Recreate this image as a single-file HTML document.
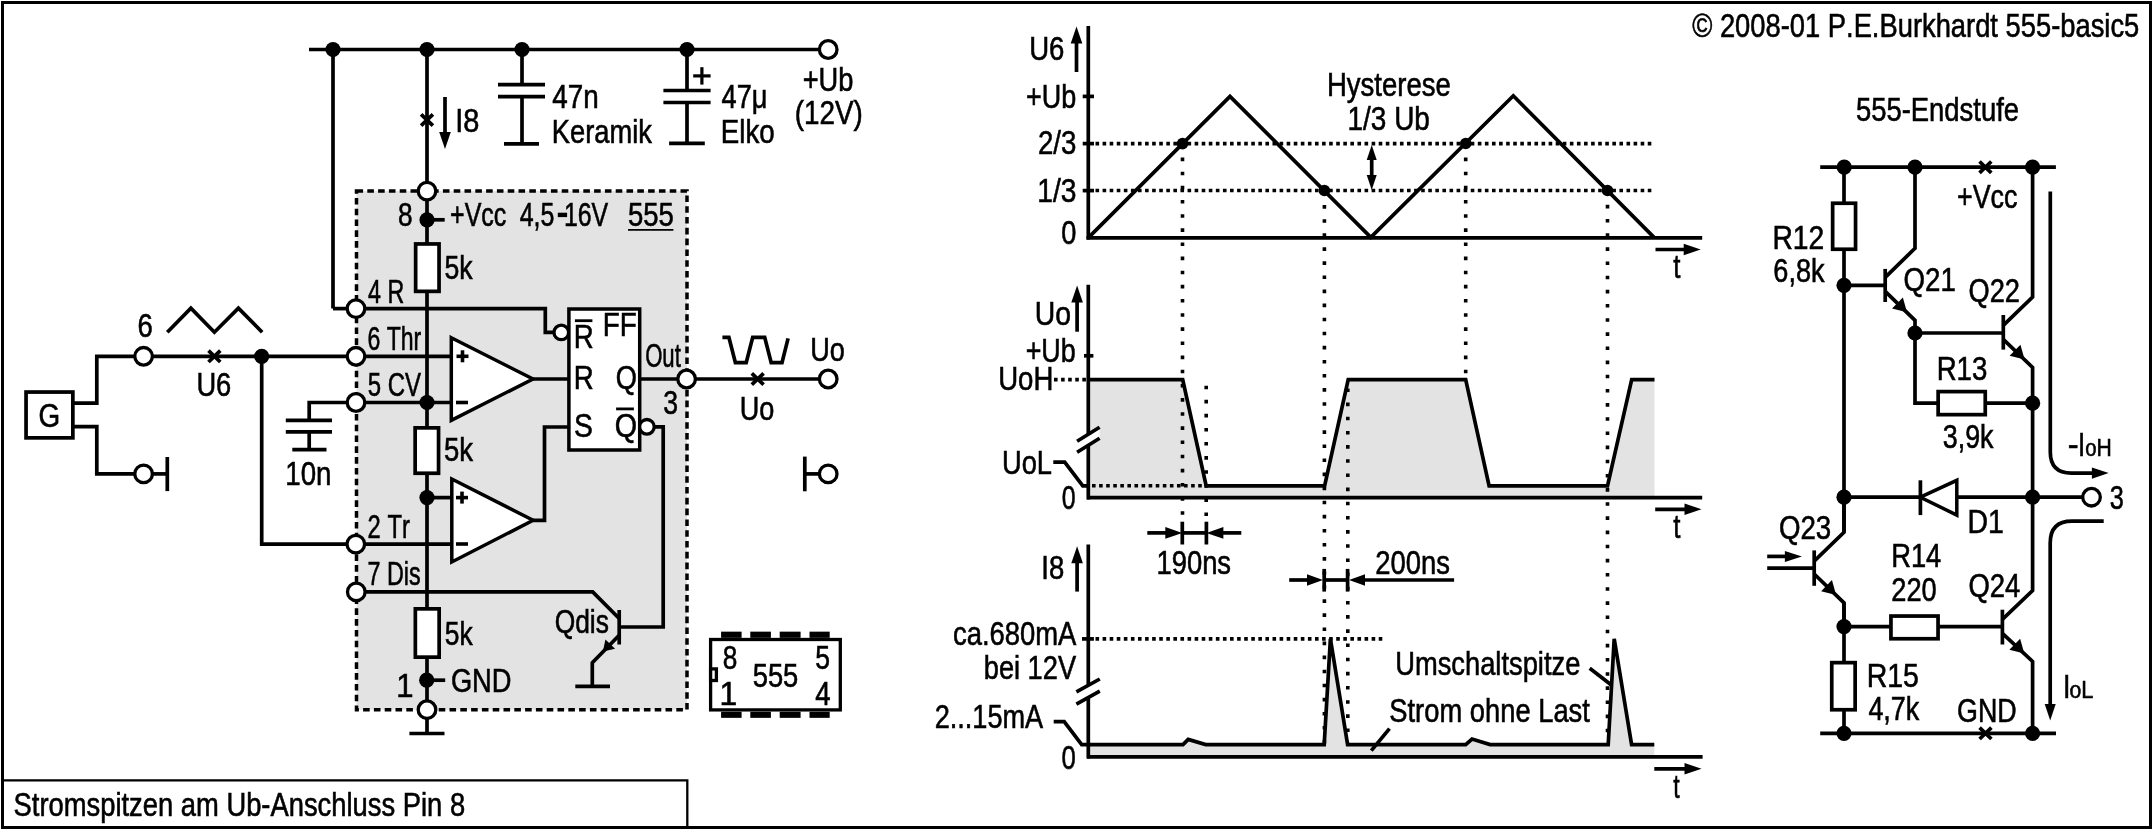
<!DOCTYPE html>
<html><head><meta charset="utf-8"><style>
html,body{margin:0;padding:0;background:#fff;width:2153px;height:830px;overflow:hidden}
svg{display:block;will-change:transform}
text{font-family:"Liberation Sans",sans-serif;font-kerning:none;fill:#000;stroke:#000;stroke-width:0.6px}
</style></head><body>
<svg width="2153" height="830" viewBox="0 0 2153 830" stroke="#000" fill="none">
<rect x="2.5" y="2.5" width="2148" height="825" fill="none" stroke-width="3"/>
<polyline points="2.5,780.3 687.3,780.3 687.3,827.5" stroke-width="2.3" stroke-linejoin="miter" stroke-linecap="butt" fill="none"/>
<text transform="translate(13.56,816) scale(0.8346,1)" font-size="32.8" >Stromspitzen am Ub-Anschluss Pin 8</text>
<text transform="translate(1692.19,36.9) scale(0.8334,1)" font-size="32.8" >© 2008-01 P.E.Burkhardt 555-basic5</text>
<rect x="356.5" y="191.1" width="330.5" height="518.6" fill="#e3e3e3" stroke-width="3.5" stroke-dasharray="6.6 4.2"/>
<line x1="309" y1="49.5" x2="820" y2="49.5" stroke-width="3.7" stroke-linecap="butt"/>
<line x1="333" y1="49.5" x2="333" y2="308.6" stroke-width="3.7" stroke-linecap="butt"/>
<line x1="333" y1="308.6" x2="356" y2="308.6" stroke-width="3.7" stroke-linecap="butt"/>
<line x1="427" y1="49.5" x2="427" y2="733.5" stroke-width="3.7" stroke-linecap="butt"/>
<circle cx="333" cy="49.5" r="7.6" fill="#000" stroke="none"/>
<circle cx="427" cy="49.5" r="7.6" fill="#000" stroke="none"/>
<circle cx="522" cy="49.5" r="7.6" fill="#000" stroke="none"/>
<circle cx="687" cy="49.5" r="7.6" fill="#000" stroke="none"/>
<circle cx="828.2" cy="49.5" r="8.8" fill="#fff" stroke-width="3.3"/>
<path d="M421.1,114.3L432.9,125.7M421.1,125.7L432.9,114.3" stroke-width="3.7"/>
<line x1="445" y1="97" x2="445.0" y2="138.8" stroke-width="3.7" stroke-linecap="butt"/>
<polygon points="445,149 439.2,132.0 450.8,132.0" fill="#000" stroke="none"/>
<text transform="translate(455.13,131.6) scale(0.8820,1)" font-size="32.8" >I8</text>
<line x1="522" y1="49.5" x2="522" y2="84.6" stroke-width="3.7" stroke-linecap="butt"/>
<line x1="498" y1="84.6" x2="545" y2="84.6" stroke-width="3.7" stroke-linecap="butt"/>
<line x1="498" y1="96.6" x2="545" y2="96.6" stroke-width="3.7" stroke-linecap="butt"/>
<line x1="522" y1="96.6" x2="522" y2="143.9" stroke-width="3.7" stroke-linecap="butt"/>
<line x1="504" y1="143.9" x2="539" y2="143.9" stroke-width="3.7" stroke-linecap="butt"/>
<text transform="translate(552.36,107.7) scale(0.8487,1)" font-size="32.8" >47n</text>
<text transform="translate(551.76,142.9) scale(0.8330,1)" font-size="32.8" >Keramik</text>
<line x1="687" y1="49.5" x2="687" y2="90.5" stroke-width="3.7" stroke-linecap="butt"/>
<line x1="663.4" y1="90.5" x2="710.6" y2="90.5" stroke-width="3.7" stroke-linecap="butt"/>
<line x1="663.4" y1="102.5" x2="710.6" y2="102.5" stroke-width="3.7" stroke-linecap="butt"/>
<line x1="687" y1="102.5" x2="687" y2="143.4" stroke-width="3.7" stroke-linecap="butt"/>
<line x1="669.1" y1="143.4" x2="704.8" y2="143.4" stroke-width="3.7" stroke-linecap="butt"/>
<line x1="693.2" y1="75.9" x2="710.6" y2="75.9" stroke-width="3.2" stroke-linecap="butt"/>
<line x1="701.9" y1="67.2" x2="701.9" y2="84.6" stroke-width="3.2" stroke-linecap="butt"/>
<text transform="translate(721.58,107.7) scale(0.8291,1)" font-size="32.8" >47μ</text>
<text transform="translate(720.83,142.9) scale(0.8454,1)" font-size="32.8" >Elko</text>
<text transform="translate(802.67,91.4) scale(0.8313,1)" font-size="32.8" >+Ub</text>
<text transform="translate(794.67,123.6) scale(0.8485,1)" font-size="32.8" >(12V)</text>
<circle cx="427" cy="191.1" r="8.8" fill="#fff" stroke-width="3.3"/>
<circle cx="427" cy="219.8" r="7.6" fill="#000" stroke="none"/>
<line x1="427" y1="219.8" x2="444.7" y2="219.8" stroke-width="3.7" stroke-linecap="butt"/>
<text transform="translate(398.06,225.9) scale(0.7992,1)" font-size="32.8" >8</text>
<text transform="translate(450.08,225.6) scale(0.7623,1)" font-size="32.8" >+Vcc</text>
<text transform="translate(519.73,225.8) scale(0.7615,1)" font-size="32.8" >4,5</text>
<rect x="557.8" y="212.7" width="9.3" height="4.4" fill="#000" stroke="none"/>
<text transform="translate(563.90,225.8) scale(0.7592,1)" font-size="32.8" >16V</text>
<text transform="translate(627.90,225.6) scale(0.8398,1)" font-size="32.8" >555</text>
<line x1="628" y1="229.85" x2="673.4" y2="229.85" stroke-width="1.9" stroke-linecap="butt"/>
<rect x="415.65000000000003" y="243.95" width="23.399999999999967" height="47.39999999999999" fill="#fff" stroke-width="3.7"/>
<text transform="translate(444.43,278.6) scale(0.8119,1)" font-size="32.8" >5k</text>
<circle cx="356" cy="308.6" r="8.8" fill="#fff" stroke-width="3.3"/>
<polyline points="364,308.6 545.3,308.6 545.3,332.4 554,332.4" stroke-width="3.7" stroke-linejoin="miter" stroke-linecap="butt" fill="none"/>
<circle cx="561.3" cy="332.4" r="7.3" fill="#fff" stroke-width="3.3"/>
<text transform="translate(368.07,302.5) scale(0.7074,1)" font-size="32.8" >4 R</text>
<rect x="568.9" y="309" width="70.8" height="141" fill="#fff" stroke-width="3.5"/>
<text transform="translate(573.73,347.6) scale(0.8421,1)" font-size="32.8" >R</text>
<line x1="574.9" y1="320.7" x2="592.4" y2="320.7" stroke-width="2.8" stroke-linecap="butt"/>
<text transform="translate(602.72,336.4) scale(0.8484,1)" font-size="32.8" >FF</text>
<text transform="translate(573.73,389.4) scale(0.8421,1)" font-size="32.8" >R</text>
<text transform="translate(615.71,389.4) scale(0.8307,1)" font-size="32.8" >Q</text>
<text transform="translate(574.11,436.7) scale(0.8632,1)" font-size="32.8" >S</text>
<text transform="translate(614.64,436.7) scale(0.8754,1)" font-size="32.8" >Q</text>
<line x1="616.1" y1="408.9" x2="633.9" y2="408.9" stroke-width="2.8" stroke-linecap="butt"/>
<text transform="translate(645.15,366.9) scale(0.6755,1)" font-size="32.8" >Out</text>
<text transform="translate(663.29,413.7) scale(0.8102,1)" font-size="32.8" >3</text>
<rect x="26.05" y="392.05" width="46.8" height="45.8" fill="#fff" stroke-width="3.7"/>
<text transform="translate(38.50,426.6) scale(0.8500,1)" font-size="32.8" >G</text>
<polyline points="73.7,403.1 96.8,403.1 96.8,356.3 135,356.3" stroke-width="3.7" stroke-linejoin="miter" stroke-linecap="butt" fill="none"/>
<circle cx="143.6" cy="356.3" r="8.8" fill="#fff" stroke-width="3.3"/>
<line x1="152" y1="356.3" x2="451.3" y2="356.3" stroke-width="3.7" stroke-linecap="butt"/>
<polyline points="73.7,426.6 96.8,426.6 96.8,473.9 135,473.9" stroke-width="3.7" stroke-linejoin="miter" stroke-linecap="butt" fill="none"/>
<circle cx="143.6" cy="473.9" r="8.8" fill="#fff" stroke-width="3.3"/>
<line x1="152" y1="473.9" x2="167.3" y2="473.9" stroke-width="3.7" stroke-linecap="butt"/>
<line x1="167.3" y1="457" x2="167.3" y2="491.1" stroke-width="3.7" stroke-linecap="butt"/>
<text transform="translate(137.60,337.3) scale(0.8391,1)" font-size="32.8" >6</text>
<polyline points="167.3,332.2 190.9,308.2 214.4,332.2 238.4,308.2 262.2,332.2" stroke-width="3.7" stroke-linejoin="miter" stroke-linecap="butt" fill="none"/>
<path d="M208.5,350.6L220.3,362.0M208.5,362.0L220.3,350.6" stroke-width="3.7"/>
<text transform="translate(196.39,396.2) scale(0.8325,1)" font-size="32.8" >U6</text>
<circle cx="261.7" cy="356.3" r="7.6" fill="#000" stroke="none"/>
<polyline points="261.7,356.3 261.7,544.1 451.8,544.1" stroke-width="3.7" stroke-linejoin="miter" stroke-linecap="butt" fill="none"/>
<circle cx="356" cy="356.3" r="8.8" fill="#fff" stroke-width="3.3"/>
<text transform="translate(367.43,349.7) scale(0.7035,1)" font-size="32.8" >6 Thr</text>
<polygon points="451.3,337.7 533,379 451.3,420.4" fill="#fff" stroke-width="3.5"/>
<line x1="456.5" y1="356.3" x2="468.5" y2="356.3" stroke-width="3.6" stroke-linecap="butt"/>
<line x1="462.5" y1="350.3" x2="462.5" y2="362.3" stroke-width="3.6" stroke-linecap="butt"/>
<line x1="456" y1="402.5" x2="468" y2="402.5" stroke-width="3.6" stroke-linecap="butt"/>
<line x1="533" y1="379" x2="568.5" y2="379" stroke-width="3.7" stroke-linecap="butt"/>
<polyline points="309.2,420.4 309.2,402.5 451.3,402.5" stroke-width="3.7" stroke-linejoin="miter" stroke-linecap="butt" fill="none"/>
<circle cx="356" cy="402.5" r="8.8" fill="#fff" stroke-width="3.3"/>
<circle cx="427" cy="402.5" r="7.6" fill="#000" stroke="none"/>
<text transform="translate(367.64,396) scale(0.7319,1)" font-size="32.8" >5 CV</text>
<line x1="285.8" y1="420.4" x2="332" y2="420.4" stroke-width="3.7" stroke-linecap="butt"/>
<line x1="285.8" y1="431.8" x2="332" y2="431.8" stroke-width="3.7" stroke-linecap="butt"/>
<line x1="309.2" y1="431.8" x2="309.2" y2="449.7" stroke-width="3.7" stroke-linecap="butt"/>
<line x1="292.3" y1="449.7" x2="326.5" y2="449.7" stroke-width="3.7" stroke-linecap="butt"/>
<text transform="translate(285.29,484.5) scale(0.8444,1)" font-size="32.8" >10n</text>
<rect x="415.15000000000003" y="427.85" width="23.399999999999967" height="45.40000000000002" fill="#fff" stroke-width="3.7"/>
<text transform="translate(443.90,461.1) scale(0.8389,1)" font-size="32.8" >5k</text>
<circle cx="427" cy="497.6" r="7.6" fill="#000" stroke="none"/>
<line x1="427" y1="497.6" x2="451.8" y2="497.6" stroke-width="3.7" stroke-linecap="butt"/>
<polygon points="451.8,479 533.1,520.3 451.8,562" fill="#fff" stroke-width="3.5"/>
<line x1="456" y1="497.6" x2="468" y2="497.6" stroke-width="3.6" stroke-linecap="butt"/>
<line x1="462" y1="491.6" x2="462" y2="503.6" stroke-width="3.6" stroke-linecap="butt"/>
<line x1="456" y1="544" x2="468" y2="544" stroke-width="3.6" stroke-linecap="butt"/>
<polyline points="533.1,520.3 544.5,520.3 544.5,427 568.9,427" stroke-width="3.7" stroke-linejoin="miter" stroke-linecap="butt" fill="none"/>
<circle cx="355.8" cy="544.1" r="8.8" fill="#fff" stroke-width="3.3"/>
<text transform="translate(367.60,537.6) scale(0.7252,1)" font-size="32.8" >2 Tr</text>
<circle cx="356.3" cy="591.9" r="8.8" fill="#fff" stroke-width="3.3"/>
<text transform="translate(367.60,584.8) scale(0.7111,1)" font-size="32.8" >7 Dis</text>
<polyline points="364,591.9 592.7,591.9 619.2,618.5" stroke-width="3.7" stroke-linejoin="miter" stroke-linecap="butt" fill="none"/>
<line x1="619.2" y1="610" x2="619.2" y2="644.5" stroke-width="3.7" stroke-linecap="butt"/>
<polyline points="619.2,627 663.2,627 663.2,426.8 654,426.8" stroke-width="3.7" stroke-linejoin="miter" stroke-linecap="butt" fill="none"/>
<circle cx="646.9" cy="426.8" r="7.3" fill="#fff" stroke-width="3.3"/>
<polyline points="619.2,635.3 592.3,662.8 592.3,686.3" stroke-width="3.7" stroke-linejoin="miter" stroke-linecap="butt" fill="none"/>
<line x1="575.3" y1="686.3" x2="610" y2="686.3" stroke-width="3.7" stroke-linecap="butt"/>
<polygon points="602.9,651.6 605.4307581504977,639.376753165231 615.0707414789495,648.8277172127329" fill="#000" stroke="none"/>
<text transform="translate(554.65,633) scale(0.8052,1)" font-size="32.8" >Qdis</text>
<line x1="640" y1="379" x2="820" y2="379" stroke-width="3.7" stroke-linecap="butt"/>
<circle cx="686.6" cy="379" r="8.8" fill="#fff" stroke-width="3.3"/>
<circle cx="828.2" cy="379" r="8.8" fill="#fff" stroke-width="3.3"/>
<path d="M751.8000000000001,373.3L763.6,384.7M751.8000000000001,384.7L763.6,373.3" stroke-width="3.7"/>
<text transform="translate(739.81,420.2) scale(0.8259,1)" font-size="32.8" >Uo</text>
<text transform="translate(810.31,361.2) scale(0.8259,1)" font-size="32.8" >Uo</text>
<polyline points="722.4,337.3 728.9,337.3 735.4,362.7 746.2,362.7 752.7,337.3 764.7,337.3 771.2,362.7 782,362.7 788.1,338.4" stroke-width="3.7" stroke-linejoin="miter" stroke-linecap="butt" fill="none"/>
<line x1="805" y1="473.9" x2="820" y2="473.9" stroke-width="3.7" stroke-linecap="butt"/>
<circle cx="828.2" cy="473.9" r="8.8" fill="#fff" stroke-width="3.3"/>
<line x1="804.8" y1="456.6" x2="804.8" y2="491.3" stroke-width="3.7" stroke-linecap="butt"/>
<rect x="415.35" y="608.85" width="23.8" height="48.3" fill="#fff" stroke-width="3.7"/>
<text transform="translate(444.74,644.6) scale(0.8060,1)" font-size="32.8" >5k</text>
<circle cx="426.7" cy="680.2" r="7.6" fill="#000" stroke="none"/>
<line x1="426.7" y1="680.2" x2="445.2" y2="680.2" stroke-width="3.7" stroke-linecap="butt"/>
<text transform="translate(396.23,697.1) scale(0.9475,1)" font-size="32.8" >1</text>
<text transform="translate(450.93,691.7) scale(0.8311,1)" font-size="32.8" >GND</text>
<circle cx="427" cy="709.7" r="8.8" fill="#fff" stroke-width="3.3"/>
<line x1="409.4" y1="733.5" x2="444.5" y2="733.5" stroke-width="3.7" stroke-linecap="butt"/>
<rect x="710.6" y="639.5" width="129.7" height="70.4" fill="#fff" stroke-width="3.3"/>
<rect x="722.75" y="633.3" width="17.2" height="2.9" fill="#fff" stroke-width="3.3"/>
<rect x="722.75" y="713.4" width="17.2" height="2.8" fill="#fff" stroke-width="3.3"/>
<rect x="751.9499999999999" y="633.3" width="17.300000000000022" height="2.9" fill="#fff" stroke-width="3.3"/>
<rect x="751.9499999999999" y="713.4" width="17.300000000000022" height="2.8" fill="#fff" stroke-width="3.3"/>
<rect x="781.35" y="633.3" width="17.599999999999977" height="2.9" fill="#fff" stroke-width="3.3"/>
<rect x="781.35" y="713.4" width="17.599999999999977" height="2.8" fill="#fff" stroke-width="3.3"/>
<rect x="811.15" y="633.3" width="16.900000000000045" height="2.9" fill="#fff" stroke-width="3.3"/>
<rect x="811.15" y="713.4" width="16.900000000000045" height="2.8" fill="#fff" stroke-width="3.3"/>
<rect x="710.6" y="668.9" width="5.8" height="11.6" fill="#fff" stroke-width="3.3"/>
<text transform="translate(722.66,668.7) scale(0.7992,1)" font-size="32.8" >8</text>
<text transform="translate(719.38,704.5) scale(0.9688,1)" font-size="32.8" >1</text>
<text transform="translate(752.70,687.4) scale(0.8341,1)" font-size="32.8" >555</text>
<text transform="translate(815.14,668.7) scale(0.8102,1)" font-size="32.8" >5</text>
<text transform="translate(815.17,704.5) scale(0.8410,1)" font-size="32.8" >4</text>
<polygon points="1088.7,379.6 1182.7,379.6 1206.2,485.8 1324.6,485.8 1348.2,379.6 1465.7,379.6 1489.1,485.8 1607.5,485.8 1631.7,379.6 1654.5,379.6 1654.5,497.7 1088.7,497.7" fill="#e3e3e3" stroke="none"/>
<polygon points="1088.6,744.6 1183,744.6 1188.2,739.4 1205.7,744.6 1324.2,744.6 1330.4,638.8 1347.6,744.6 1465.7,744.6 1472,739.1 1490.1,744.6 1608.2,744.6 1614.2,638.8 1631.6,744.6 1654.3,744.6 1654.3,756.9 1088.6,756.9" fill="#e3e3e3" stroke="none"/>
<line x1="1182.5" y1="157.55" x2="1182.5" y2="521" stroke-width="3.6" stroke-dasharray="3.6 10.547" stroke-dashoffset="0"/>
<line x1="1324.4" y1="205.05" x2="1324.4" y2="744" stroke-width="3.6" stroke-dasharray="3.6 10.48" stroke-dashoffset="0"/>
<line x1="1465.7" y1="157.55" x2="1465.7" y2="376" stroke-width="3.6" stroke-dasharray="3.6 10.547" stroke-dashoffset="0"/>
<line x1="1607.5" y1="204.85" x2="1607.5" y2="744" stroke-width="3.6" stroke-dasharray="3.6 10.56" stroke-dashoffset="0"/>
<line x1="1206.2" y1="385.7" x2="1206.2" y2="521" stroke-width="3.6" stroke-dasharray="3.6 10.476" stroke-dashoffset="0"/>
<line x1="1347.8" y1="388.4" x2="1347.8" y2="744" stroke-width="3.6" stroke-dasharray="3.6 10.57" stroke-dashoffset="0"/>
<line x1="1088.3" y1="25.9" x2="1088.3" y2="239.6" stroke-width="3.7" stroke-linecap="butt"/>
<line x1="1086.5" y1="237.9" x2="1702.2" y2="237.9" stroke-width="3.7" stroke-linecap="butt"/>
<line x1="1082.7" y1="96.4" x2="1094" y2="96.4" stroke-width="3.7" stroke-linecap="butt"/>
<line x1="1082.7" y1="143.6" x2="1094" y2="143.6" stroke-width="3.7" stroke-linecap="butt"/>
<line x1="1082.7" y1="190.6" x2="1094" y2="190.6" stroke-width="3.7" stroke-linecap="butt"/>
<line x1="1076.5" y1="72" x2="1076.5" y2="36.7" stroke-width="3.7" stroke-linecap="butt"/>
<polygon points="1076.5,26.5 1082.3,43.5 1070.7,43.5" fill="#000" stroke="none"/>
<text transform="translate(1029.17,59.7) scale(0.8404,1)" font-size="32.8" >U6</text>
<text transform="translate(1026.08,107.8) scale(0.8227,1)" font-size="32.8" >+Ub</text>
<text transform="translate(1038.01,154.3) scale(0.8422,1)" font-size="32.8" >2/3</text>
<text transform="translate(1037.25,201.7) scale(0.8594,1)" font-size="32.8" >1/3</text>
<text transform="translate(1061.14,244) scale(0.8291,1)" font-size="32.8" >0</text>
<line x1="1095.5" y1="143.6" x2="1653" y2="143.6" stroke-width="3.6" stroke-dasharray="3.6 3.48" stroke-dashoffset="0"/>
<line x1="1095.5" y1="190.5" x2="1653" y2="190.5" stroke-width="3.6" stroke-dasharray="3.6 3.48" stroke-dashoffset="0"/>
<polyline points="1088.2,237.9 1230,96.4 1370.8,237.4 1513.3,95.8 1654,237.4" stroke-width="3.7" stroke-linejoin="miter" stroke-linecap="butt" fill="none"/>
<circle cx="1182.5" cy="143.6" r="5.8" fill="#000" stroke="none"/>
<circle cx="1324.4" cy="190.5" r="5.8" fill="#000" stroke="none"/>
<circle cx="1465.7" cy="143.5" r="5.8" fill="#000" stroke="none"/>
<circle cx="1607.5" cy="190.5" r="5.8" fill="#000" stroke="none"/>
<line x1="1371.7" y1="158" x2="1371.7" y2="177" stroke-width="3.7" stroke-linecap="butt"/>
<polygon points="1371.7,145 1376.7,160.0 1366.7,160.0" fill="#000" stroke="none"/>
<polygon points="1371.7,190.1 1366.7,175.1 1376.7,175.1" fill="#000" stroke="none"/>
<text transform="translate(1326.94,95.8) scale(0.8397,1)" font-size="32.8" >Hysterese</text>
<text transform="translate(1347.57,129.8) scale(0.8516,1)" font-size="32.8" >1/3 Ub</text>
<line x1="1655.5" y1="249.5" x2="1690.5" y2="249.5" stroke-width="3.7" stroke-linecap="butt"/>
<polygon points="1700.7,249.5 1683.7,255.3 1683.7,243.7" fill="#000" stroke="none"/>
<text transform="translate(1673.21,277.5) scale(0.7879,1)" font-size="32.8" >t</text>
<line x1="1088.3" y1="284.7" x2="1088.3" y2="499.4" stroke-width="3.7" stroke-linecap="butt"/>
<line x1="1087" y1="497.7" x2="1702.2" y2="497.7" stroke-width="3.7" stroke-linecap="butt"/>
<line x1="1077.1" y1="331.7" x2="1077.1" y2="295.8" stroke-width="3.7" stroke-linecap="butt"/>
<polygon points="1077.1,285.6 1082.8999999999999,302.6 1071.3,302.6" fill="#000" stroke="none"/>
<text transform="translate(1034.81,325.4) scale(0.8653,1)" font-size="32.8" >Uo</text>
<text transform="translate(1025.69,362.1) scale(0.8192,1)" font-size="32.8" >+Ub</text>
<line x1="1084" y1="355.8" x2="1093.4" y2="355.8" stroke-width="3.7" stroke-linecap="butt"/>
<text transform="translate(998.17,390.3) scale(0.8409,1)" font-size="32.8" >UoH</text>
<line x1="1054" y1="379.6" x2="1088" y2="379.6" stroke-width="3.6" stroke-dasharray="3.6 3.48" stroke-dashoffset="0"/>
<polyline points="1088.7,379.6 1182.7,379.6 1206.2,485.8 1324.6,485.8 1348.2,379.6 1465.7,379.6 1489.1,485.8 1607.5,485.8 1631.7,379.6 1654.5,379.6" stroke-width="3.7" stroke-linejoin="miter" stroke-linecap="butt" fill="none"/>
<line x1="1092" y1="485.8" x2="1204" y2="485.8" stroke-width="3.6" stroke-dasharray="3.6 3.48" stroke-dashoffset="0"/>
<text transform="translate(1002.00,473.7) scale(0.8311,1)" font-size="32.8" >UoL</text>
<polyline points="1053.3,462.2 1064.7,462.2 1082.8,485.8 1088.7,485.8" stroke-width="3.7" stroke-linejoin="miter" stroke-linecap="butt" fill="none"/>
<polygon points="1077.1,441.3 1099.6,427.2 1099.6,438.2 1077.1,452.3" fill="#fff" stroke="none"/>
<line x1="1077.1" y1="441.3" x2="1099.6" y2="427.2" stroke-width="3.7" stroke-linecap="butt"/>
<line x1="1077.1" y1="452.3" x2="1099.6" y2="438.2" stroke-width="3.7" stroke-linecap="butt"/>
<text transform="translate(1061.73,509) scale(0.7590,1)" font-size="32.8" >0</text>
<line x1="1655.2" y1="509.3" x2="1691.3" y2="509.3" stroke-width="3.7" stroke-linecap="butt"/>
<polygon points="1701.5,509.3 1684.5,515.1 1684.5,503.5" fill="#000" stroke="none"/>
<text transform="translate(1673.21,537.5) scale(0.7879,1)" font-size="32.8" >t</text>
<line x1="1147.3" y1="532.9" x2="1172.1" y2="532.9" stroke-width="3.7" stroke-linecap="butt"/>
<polygon points="1182.3,532.9 1165.3,538.6999999999999 1165.3,527.1" fill="#000" stroke="none"/>
<line x1="1241.3" y1="532.9" x2="1216.6000000000001" y2="532.9" stroke-width="3.7" stroke-linecap="butt"/>
<polygon points="1206.4,532.9 1223.4,527.1 1223.4,538.6999999999999" fill="#000" stroke="none"/>
<line x1="1182.3" y1="521.7" x2="1182.3" y2="544.5" stroke-width="3.7" stroke-linecap="butt"/>
<line x1="1182.3" y1="532.9" x2="1206.4" y2="532.9" stroke-width="3.7" stroke-linecap="butt"/>
<line x1="1206.4" y1="521.7" x2="1206.4" y2="544.5" stroke-width="3.7" stroke-linecap="butt"/>
<text transform="translate(1156.41,574.3) scale(0.8356,1)" font-size="32.8" >190ns</text>
<line x1="1088.3" y1="544.5" x2="1088.3" y2="758.6" stroke-width="3.7" stroke-linecap="butt"/>
<line x1="1087" y1="756.9" x2="1702.6" y2="756.9" stroke-width="3.7" stroke-linecap="butt"/>
<line x1="1077.1" y1="591.6" x2="1077.1" y2="556.4000000000001" stroke-width="3.7" stroke-linecap="butt"/>
<polygon points="1077.1,546.2 1082.8999999999999,563.2 1071.3,563.2" fill="#000" stroke="none"/>
<text transform="translate(1041.36,579.4) scale(0.8383,1)" font-size="32.8" >I8</text>
<text transform="translate(952.93,645) scale(0.8364,1)" font-size="32.8" >ca.680mA</text>
<text transform="translate(983.74,679) scale(0.8304,1)" font-size="32.8" >bei 12V</text>
<line x1="1082" y1="638.9" x2="1093.9" y2="638.9" stroke-width="3.7" stroke-linecap="butt"/>
<line x1="1095.5" y1="638.9" x2="1383" y2="638.9" stroke-width="3.6" stroke-dasharray="3.6 3.48" stroke-dashoffset="0"/>
<polygon points="1076.4,691.9 1099.8,679 1099.8,691.2 1076.4,704.1" fill="#fff" stroke="none"/>
<line x1="1076.4" y1="691.9" x2="1099.8" y2="679" stroke-width="3.7" stroke-linecap="butt"/>
<line x1="1076.4" y1="704.1" x2="1099.8" y2="691.2" stroke-width="3.7" stroke-linecap="butt"/>
<text transform="translate(934.63,727.9) scale(0.8275,1)" font-size="32.8" >2...15mA</text>
<polyline points="1053.7,721.6 1064.2,721.6 1081.7,744.6 1088.6,744.6" stroke-width="3.7" stroke-linejoin="miter" stroke-linecap="butt" fill="none"/>
<polyline points="1088.6,744.6 1183,744.6 1188.2,739.4 1205.7,744.6 1324.2,744.6 1330.4,638.8 1347.6,744.6 1465.7,744.6 1472,739.1 1490.1,744.6 1608.2,744.6 1614.2,638.8 1631.6,744.6 1654.3,744.6" stroke-width="3.7" stroke-linejoin="miter" stroke-linecap="butt" fill="none"/>
<text transform="translate(1061.39,768.6) scale(0.7845,1)" font-size="32.8" >0</text>
<line x1="1289.2" y1="580" x2="1313.4" y2="580.0" stroke-width="3.7" stroke-linecap="butt"/>
<polygon points="1323,580 1307.0,585.7 1307.0,574.3" fill="#000" stroke="none"/>
<line x1="1454.1" y1="580" x2="1360" y2="580" stroke-width="3.7" stroke-linecap="butt"/>
<polygon points="1349,580 1365.0,574.3 1365.0,585.7" fill="#000" stroke="none"/>
<line x1="1324.2" y1="568.9" x2="1324.2" y2="591.6" stroke-width="3.7" stroke-linecap="butt"/>
<line x1="1324.2" y1="580" x2="1347.6" y2="580" stroke-width="3.7" stroke-linecap="butt"/>
<line x1="1347.6" y1="568.9" x2="1347.6" y2="591.6" stroke-width="3.7" stroke-linecap="butt"/>
<text transform="translate(1375.22,574.3) scale(0.8355,1)" font-size="32.8" >200ns</text>
<text transform="translate(1395.19,674.5) scale(0.8329,1)" font-size="32.8" >Umschaltspitze</text>
<line x1="1589.7" y1="668.3" x2="1612" y2="685.5" stroke-width="3.7" stroke-linecap="butt"/>
<text transform="translate(1389.26,721.9) scale(0.8337,1)" font-size="32.8" >Strom ohne Last</text>
<line x1="1389.5" y1="728.6" x2="1371.3" y2="750.6" stroke-width="3.7" stroke-linecap="butt"/>
<line x1="1654.3" y1="768.8" x2="1691.3" y2="768.8" stroke-width="3.7" stroke-linecap="butt"/>
<polygon points="1701.5,768.8 1684.5,774.5999999999999 1684.5,763.0" fill="#000" stroke="none"/>
<text transform="translate(1673.25,797.8) scale(0.7044,1)" font-size="32.8" >t</text>
<text transform="translate(1855.90,120.6) scale(0.8365,1)" font-size="32.8" >555-Endstufe</text>
<line x1="1820.2" y1="167.2" x2="2055.9" y2="167.2" stroke-width="3.7" stroke-linecap="butt"/>
<circle cx="1844.2" cy="167.2" r="7.6" fill="#000" stroke="none"/>
<circle cx="1915" cy="167.2" r="7.6" fill="#000" stroke="none"/>
<circle cx="2032.6" cy="167.2" r="7.6" fill="#000" stroke="none"/>
<path d="M1979.5,161.5L1991.3000000000002,172.89999999999998M1979.5,172.89999999999998L1991.3000000000002,161.5" stroke-width="3.7"/>
<text transform="translate(1956.99,207.8) scale(0.8197,1)" font-size="32.8" >+Vcc</text>
<line x1="1844" y1="167" x2="1844" y2="532.3" stroke-width="3.7" stroke-linecap="butt"/>
<line x1="1844" y1="602.8" x2="1844" y2="733.3" stroke-width="3.7" stroke-linecap="butt"/>
<rect x="1832.6499999999999" y="203.25" width="22.900000000000137" height="45.999999999999986" fill="#fff" stroke-width="3.7"/>
<text transform="translate(1772.38,249.4) scale(0.8615,1)" font-size="32.8" >R12</text>
<text transform="translate(1773.32,281.9) scale(0.8264,1)" font-size="32.8" >6,8k</text>
<circle cx="1844" cy="285.3" r="7.6" fill="#000" stroke="none"/>
<line x1="1844" y1="285.3" x2="1885.2" y2="285.3" stroke-width="3.7" stroke-linecap="butt"/>
<line x1="1885.2" y1="268.9" x2="1885.2" y2="302" stroke-width="3.7" stroke-linecap="butt"/>
<polyline points="1885.2,277.3 1915,248.3 1915,167" stroke-width="3.7" stroke-linejoin="miter" stroke-linecap="butt" fill="none"/>
<polyline points="1885.2,291.3 1915,320.3 1915,333" stroke-width="3.7" stroke-linejoin="miter" stroke-linecap="butt" fill="none"/>
<polygon points="1907,312.2 1892.057371704649,308.50265505707443 1902.8493696112469,297.37688401934463" fill="#000" stroke="none"/>
<circle cx="1915" cy="333" r="7.6" fill="#000" stroke="none"/>
<line x1="1915" y1="333" x2="2003.3" y2="333" stroke-width="3.7" stroke-linecap="butt"/>
<line x1="2003.3" y1="315" x2="2003.3" y2="349.6" stroke-width="3.7" stroke-linecap="butt"/>
<polyline points="2003.3,325.3 2032.6,297 2032.6,167" stroke-width="3.7" stroke-linejoin="miter" stroke-linecap="butt" fill="none"/>
<polyline points="2003.3,339.3 2032.6,367.5 2032.6,497.2" stroke-width="3.7" stroke-linejoin="miter" stroke-linecap="butt" fill="none"/>
<polygon points="2024.6,359.5 2009.657371704649,355.80265505707445 2020.4493696112468,344.67688401934464" fill="#000" stroke="none"/>
<text transform="translate(1903.49,290.7) scale(0.8446,1)" font-size="32.8" >Q21</text>
<text transform="translate(1968.51,302) scale(0.8300,1)" font-size="32.8" >Q22</text>
<polyline points="1915,333 1915,403.2 2032.6,403.2" stroke-width="3.7" stroke-linejoin="miter" stroke-linecap="butt" fill="none"/>
<rect x="1938.1499999999999" y="391.6" width="47.09999999999995" height="23.05" fill="#fff" stroke-width="3.7"/>
<circle cx="2032.6" cy="403.2" r="7.6" fill="#000" stroke="none"/>
<text transform="translate(1936.63,379.5) scale(0.8423,1)" font-size="32.8" >R13</text>
<text transform="translate(1942.78,448.4) scale(0.8191,1)" font-size="32.8" >3,9k</text>
<line x1="1844" y1="497.2" x2="2083" y2="497.2" stroke-width="3.7" stroke-linecap="butt"/>
<circle cx="1844" cy="497.2" r="7.6" fill="#000" stroke="none"/>
<circle cx="2032.6" cy="497.2" r="7.6" fill="#000" stroke="none"/>
<circle cx="2091.5" cy="497.2" r="8.8" fill="#fff" stroke-width="3.3"/>
<text transform="translate(2109.74,508.8) scale(0.7716,1)" font-size="32.8" >3</text>
<line x1="1920.4" y1="480.3" x2="1920.4" y2="515.1" stroke-width="3.7" stroke-linecap="butt"/>
<polygon points="1920.4,497.2 1956.8,480.3 1956.8,515.1" fill="#fff" stroke-width="3.5"/>
<text transform="translate(1967.47,533) scale(0.8662,1)" font-size="32.8" >D1</text>
<path d="M2050.3,191.5 L2050.3,452 Q2050.3,473.1 2071.4,473.1 L2094,473.1" fill="none" stroke-width="3.7"/>
<polygon points="2108.7,473.1 2091.8999999999996,478.8 2091.8999999999996,467.40000000000003" fill="#000" stroke="none"/>
<text transform="translate(2067.64,455.8) scale(0.9990,1)" font-size="32.8" >-</text>
<text transform="translate(2078.03,455.8) scale(0.7846,1)" font-size="32.8" >I</text>
<text transform="translate(2085.35,455.8) scale(0.8333,1)" font-size="24.4" >o</text>
<text transform="translate(2096.47,455.8) scale(0.8658,1)" font-size="24.4" >H</text>
<polyline points="1844,497.2 1844,532.3 1814.2,561.2" stroke-width="3.7" stroke-linejoin="miter" stroke-linecap="butt" fill="none"/>
<line x1="1814.2" y1="550.4" x2="1814.2" y2="585.8" stroke-width="3.7" stroke-linecap="butt"/>
<line x1="1767.2" y1="568.2" x2="1814.2" y2="568.2" stroke-width="3.7" stroke-linecap="butt"/>
<line x1="1767.2" y1="556.4" x2="1791.7" y2="556.4" stroke-width="3.7" stroke-linecap="butt"/>
<polygon points="1801.9,556.4 1784.9,561.9 1784.9,550.9" fill="#000" stroke="none"/>
<polyline points="1814.2,574 1844,602.8 1844,626.6" stroke-width="3.7" stroke-linejoin="miter" stroke-linecap="butt" fill="none"/>
<polygon points="1836.1,594.9 1821.157371704649,591.2026550570744 1831.9493696112468,580.0768840193447" fill="#000" stroke="none"/>
<circle cx="1844" cy="626.6" r="7.6" fill="#000" stroke="none"/>
<text transform="translate(1778.89,538.5) scale(0.8440,1)" font-size="32.8" >Q23</text>
<line x1="1844" y1="626.6" x2="2002.4" y2="626.6" stroke-width="3.7" stroke-linecap="butt"/>
<rect x="1890.9499999999998" y="616.0500000000001" width="47.10000000000018" height="22.699999999999978" fill="#fff" stroke-width="3.7"/>
<text transform="translate(1891.16,567.4) scale(0.8333,1)" font-size="32.8" >R14</text>
<text transform="translate(1891.33,600.6) scale(0.8302,1)" font-size="32.8" >220</text>
<line x1="2002.4" y1="609.7" x2="2002.4" y2="644.5" stroke-width="3.7" stroke-linecap="butt"/>
<polyline points="2002.4,619.3 2032.6,590.5 2032.6,497.2" stroke-width="3.7" stroke-linejoin="miter" stroke-linecap="butt" fill="none"/>
<polyline points="2002.4,633.3 2032.6,661.5 2032.6,733.3" stroke-width="3.7" stroke-linejoin="miter" stroke-linecap="butt" fill="none"/>
<polygon points="2024.3,653.5 2009.357371704649,649.8026550570744 2020.1493696112468,638.6768840193447" fill="#000" stroke="none"/>
<text transform="translate(1968.50,597.3) scale(0.8372,1)" font-size="32.8" >Q24</text>
<rect x="1831.75" y="662.65" width="23.39999999999991" height="47.100000000000065" fill="#fff" stroke-width="3.7"/>
<text transform="translate(1866.66,686.8) scale(0.8698,1)" font-size="32.8" >R15</text>
<text transform="translate(1868.38,720) scale(0.8223,1)" font-size="32.8" >4,7k</text>
<line x1="1820.2" y1="733.3" x2="2056" y2="733.3" stroke-width="3.7" stroke-linecap="butt"/>
<circle cx="1844" cy="733.3" r="7.6" fill="#000" stroke="none"/>
<circle cx="2032.6" cy="733.3" r="7.6" fill="#000" stroke="none"/>
<path d="M1979.6,727.5999999999999L1991.4,739.0M1979.6,739.0L1991.4,727.5999999999999" stroke-width="3.7"/>
<text transform="translate(1957.05,721.8) scale(0.8182,1)" font-size="32.8" >GND</text>
<path d="M2103.7,521.1 L2072,521.1 Q2050.2,521.1 2050.2,543 L2050.2,708" fill="none" stroke-width="3.7"/>
<polygon points="2050.2,720.5 2044.6999999999998,703.9 2055.7,703.9" fill="#000" stroke="none"/>
<text transform="translate(2062.93,697.8) scale(0.8173,1)" font-size="32.8" >I</text>
<text transform="translate(2069.61,697.8) scale(0.8680,1)" font-size="24.4" >o</text>
<text transform="translate(2081.21,697.8) scale(0.8923,1)" font-size="24.4" >L</text>
</svg>
</body></html>
